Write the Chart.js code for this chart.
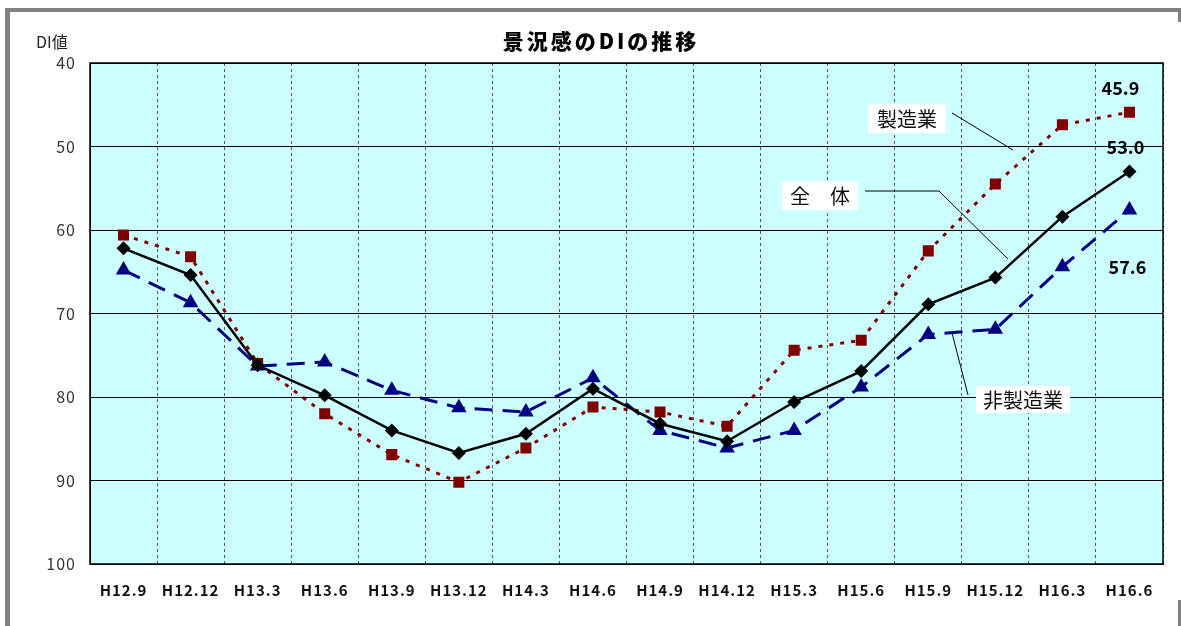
<!DOCTYPE html>
<html>
<head>
<meta charset="utf-8">
<script src="https://cdn.jsdelivr.net/npm/chart.js@4/dist/chart.umd.min.js"></script>
<style>
  html, body { margin: 0; padding: 0; background: #fff; }
  #wrap { width: 1181px; height: 626px; position: relative; }
</style>
</head>
<body>
<div id="wrap"><canvas id="c" width="1181" height="626"></canvas></div>
<script>
// 調査時点
const periods = ['H12.9','H12.12','H13.3','H13.6','H13.9','H13.12','H14.3','H14.6',
                 'H14.9','H14.12','H15.3','H15.6','H15.9','H15.12','H16.3','H16.6'];
// DI値（全体・製造業・非製造業）
const zentai   = [62.2, 65.4, 76.2, 79.8, 84.0, 86.7, 84.4, 79.0, 83.2, 85.3, 80.6, 76.9, 68.9, 65.7, 58.4, 53.0];
const seizogyo = [60.6, 63.2, 76.0, 82.0, 86.9, 90.2, 86.1, 81.2, 81.8, 83.5, 74.4, 73.2, 62.5, 54.5, 47.4, 45.9];
const hiseizo  = [64.8, 68.7, 76.3, 75.8, 79.2, 81.3, 81.8, 77.7, 84.0, 86.1, 84.0, 78.8, 72.5, 71.9, 64.4, 57.6];
// 縦軸目盛
const yTicks = [40, 50, 60, 70, 80, 90, 100];

const FONT = '"Noto Sans CJK JP", "Noto Sans", sans-serif';

const decor = {
  id: 'decor',
  beforeDraw(chart) {
    const {ctx, chartArea: a} = chart;
    ctx.save();
    ctx.fillStyle = '#CCFFFF';
    ctx.fillRect(a.left, a.top, a.right - a.left, a.bottom - a.top);
    ctx.restore();
    // 目盛ラベルの字間
    ctx.letterSpacing = '1px';
  },
  afterDraw(chart) {
    const {ctx, chartArea: a} = chart;
    const xs = chart.scales.x, ys = chart.scales.y;
    ctx.save();
    ctx.letterSpacing = '0px';
    // 外枠
    ctx.fillStyle = '#808080';
    ctx.fillRect(5, 8, 1176, 4);
    ctx.fillRect(5, 8, 5, 618);
    ctx.fillRect(1178, 12, 3, 10);
    ctx.fillRect(1178, 600, 3, 26);
    // プロットエリア枠
    ctx.strokeStyle = '#000';
    ctx.lineWidth = 1.5;
    ctx.strokeRect(a.left, a.top, a.right - a.left, a.bottom - a.top);

    // タイトル
    ctx.fillStyle = '#000';
    ctx.textAlign = 'center';
    ctx.textBaseline = 'middle';
    ctx.font = '900 21px ' + FONT;
    ctx.letterSpacing = '3px';
    ctx.fillText('景況感のDIの推移', 601, 41);
    ctx.letterSpacing = '0px';
    // 軸タイトル
    ctx.font = '16px ' + FONT;
    ctx.textAlign = 'left';
    ctx.fillStyle = '#222';
    ctx.fillText('DI値', 36, 42);

    // 系列名ラベル
    const box = (txt, x1, y1, x2, y2) => {
      ctx.fillStyle = '#fff';
      ctx.fillRect(x1, y1, x2 - x1, y2 - y1);
      ctx.fillStyle = '#111';
      ctx.font = '20px ' + FONT;
      ctx.textAlign = 'center';
      ctx.textBaseline = 'middle';
      ctx.fillText(txt, (x1 + x2) / 2, (y1 + y2) / 2 + 1);
    };
    const leader = (pts) => {
      ctx.strokeStyle = '#000';
      ctx.lineWidth = 1;
      ctx.beginPath();
      ctx.moveTo(pts[0][0], pts[0][1]);
      for (let i = 1; i < pts.length; i++) ctx.lineTo(pts[i][0], pts[i][1]);
      ctx.stroke();
    };
    leader([[952, 113], [1013, 150]]);
    box('製造業', 868, 104, 946, 133);
    leader([[865, 191], [939, 191], [1008, 259]]);
    box('全　体', 782, 181, 858, 210);
    leader([[952, 333], [968, 395]]);
    box('非製造業', 976, 386, 1070, 413);

    // 最新値ラベル
    const last = periods.length - 1;
    const px = xs.getPixelForValue(last);
    ctx.fillStyle = '#000';
    ctx.font = 'bold 18px ' + FONT;
    ctx.textAlign = 'center';
    ctx.textBaseline = 'middle';
    ctx.fillText(seizogyo[last].toFixed(1), px - 9, ys.getPixelForValue(seizogyo[last]) - 24);
    ctx.fillText(zentai[last].toFixed(1), px - 4, ys.getPixelForValue(zentai[last]) - 24);
    ctx.fillText(hiseizo[last].toFixed(1), px - 2, ys.getPixelForValue(hiseizo[last]) + 57);
    ctx.restore();
  }
};

new Chart(document.getElementById('c'), {
  type: 'line',
  data: {
    labels: periods,
    datasets: [
      {
        label: '全体', data: zentai,
        borderColor: '#000', backgroundColor: '#000', borderWidth: 2.5,
        pointStyle: 'rectRot', pointRadius: 7, pointBorderWidth: 0,
        pointBackgroundColor: '#000', tension: 0
      },
      {
        label: '製造業', data: seizogyo,
        borderColor: '#800000', backgroundColor: '#800000', borderWidth: 3,
        borderDash: [4, 7],
        pointStyle: 'rect', pointRadius: 7.8, pointBorderWidth: 0,
        pointBackgroundColor: '#800000', tension: 0
      },
      {
        label: '非製造業', data: hiseizo,
        borderColor: '#000080', backgroundColor: '#000080', borderWidth: 3,
        borderDash: [18, 10],
        pointStyle: 'triangle', pointRadius: 9, pointBorderWidth: 0,
        pointBackgroundColor: '#000080', tension: 0
      }
    ]
  },
  options: {
    responsive: false,
    animation: false,
    layout: { padding: { left: 0, top: 63, right: 18, bottom: 0 } },
    plugins: { legend: { display: false }, tooltip: { enabled: false }, title: { display: false } },
    scales: {
      x: {
        offset: true,
        grid: { offset: true, color: '#555', lineWidth: 1, drawTicks: false },
        border: { color: '#000', width: 1, dash: [3, 3] },
        ticks: {
          padding: 17, color: '#111', maxRotation: 0, autoSkip: false,
          font: { family: FONT, size: 15, weight: 'bold' }
        },
        afterFit(s) { s.height = 62; }
      },
      y: {
        reverse: true, min: 40, max: 100,
        afterBuildTicks(s) { s.ticks = yTicks.map(v => ({ value: v })); },
        grid: { color: '#000', lineWidth: 1, drawTicks: false },
        border: { color: '#000', width: 1 },
        ticks: {
          padding: 14, color: '#333',
          font: { family: FONT, size: 16 }
        },
        afterFit(s) { s.width = 90; }
      }
    }
  },
  plugins: [decor]
});
</script>
</body>
</html>
